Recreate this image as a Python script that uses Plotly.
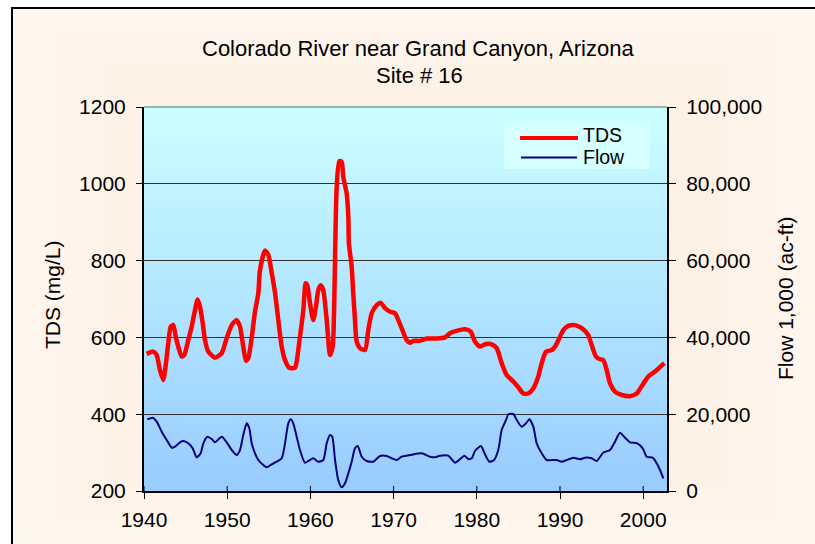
import plotly.graph_objects as go

# ---------------- data ----------------
tds_year = [1940.32, 1941.12, 1941.53, 1941.92, 1942.32, 1942.64, 1942.92, 1943.21, 1943.52, 1943.81,
            1944.12, 1944.53, 1944.84, 1945.32, 1945.73, 1946.13, 1946.45, 1946.73, 1947.06, 1947.33,
            1947.73, 1948.53, 1949.34, 1949.94, 1950.54, 1951.14, 1951.54, 1951.93, 1952.26, 1952.54,
            1952.94, 1953.34, 1953.74, 1953.94, 1954.54, 1954.94, 1955.35, 1955.75, 1956.55, 1956.95,
            1957.46, 1958.15, 1958.35, 1958.75, 1959.15, 1959.43, 1959.63, 1959.95, 1960.35, 1960.67,
            1960.95, 1961.24, 1961.55, 1961.96, 1962.36, 1962.68, 1962.84, 1963.16, 1963.47, 1963.76,
            1963.95, 1964.36, 1964.56, 1964.63, 1964.96, 1965.15, 1965.36, 1965.56, 1965.96, 1966.56,
            1966.96, 1967.37, 1967.97, 1968.45, 1968.97, 1969.57, 1970.17, 1970.57, 1970.97, 1971.57,
            1971.97, 1972.37, 1973.17, 1973.98, 1975.18, 1976.18, 1976.78, 1977.58, 1978.58, 1979.27,
            1979.78, 1980.38, 1980.98, 1981.79, 1982.39, 1982.99, 1983.59, 1984.39, 1984.99, 1985.59,
            1986.19, 1986.79, 1987.39, 1987.80, 1988.32, 1989.00, 1989.40, 1989.92, 1990.40, 1991.00,
            1991.80, 1992.61, 1993.40, 1993.81, 1994.33, 1994.81, 1995.21, 1995.61, 1996.01, 1996.61,
            1997.42, 1998.41, 1999.22, 1999.82, 2000.61, 2001.42, 2002.54]
tds_mgl = [557, 563, 554, 515, 489, 533, 585, 628, 632, 602,
           576, 550, 554, 593, 628, 671, 699, 680, 637, 593,
           563, 547, 559, 598, 632, 645, 628, 576, 539, 546,
           598, 667, 715, 775, 826, 815, 768, 716, 576, 541,
           521, 521, 537, 602, 671, 741, 736, 689, 645, 680,
           723, 736, 723, 645, 554, 576, 663, 992, 1059, 1057,
           1018, 975, 914, 845, 784, 715, 645, 589, 572, 567,
           619, 663, 684, 690, 676, 667, 663, 645, 624, 593,
           586, 591, 591, 597, 597, 600, 611, 617, 621, 615,
           589, 576, 582, 582, 572, 533, 502, 485, 470, 454,
           454, 467, 498, 533, 563, 567, 576, 598, 619, 630,
           632, 624, 606, 580, 550, 543, 541, 515, 480, 459,
           450, 447, 454, 473, 498, 511, 533]

flow_year = [1940.40, 1941.05, 1941.53, 1942.13, 1942.73, 1943.33, 1943.73, 1944.33, 1944.72, 1945.32,
             1945.85, 1946.33, 1946.81, 1947.13, 1947.61, 1948.14, 1948.53, 1949.34, 1949.94, 1950.54,
             1951.14, 1951.54, 1951.93, 1952.34, 1952.66, 1952.94, 1953.34, 1953.74, 1954.34, 1954.75,
             1955.35, 1955.95, 1956.55, 1956.95, 1957.34, 1957.63, 1957.94, 1958.35, 1958.75, 1959.35,
             1959.95, 1960.35, 1960.95, 1961.55, 1961.96, 1962.36, 1962.63, 1962.96, 1963.35, 1963.76,
             1964.16, 1964.56, 1964.96, 1965.36, 1965.69, 1966.17, 1966.77, 1967.56, 1968.37, 1969.17,
             1969.77, 1970.37, 1970.97, 1971.97, 1973.38, 1974.38, 1974.98, 1975.58, 1976.57, 1977.38,
             1977.98, 1978.50, 1978.98, 1979.39, 1979.78, 1980.50, 1980.98, 1981.50, 1982.07, 1982.58,
             1982.99, 1983.51, 1983.79, 1984.39, 1984.80, 1985.40, 1985.91, 1986.31, 1986.79, 1987.20,
             1987.80, 1988.40, 1989.60, 1990.20, 1990.81, 1991.60, 1992.40, 1993.00, 1993.81, 1994.41,
             1995.20, 1996.01, 1996.61, 1997.21, 1997.81, 1998.41, 1999.29, 1999.94, 2000.42, 2001.14,
             2001.62, 2002.02, 2002.42]
flow_kaf = [18671, 19087, 18046, 15442, 13280, 11275, 11536, 12681, 13020, 12421,
            11119, 8775, 9817, 12421, 14140, 13541, 12681, 14140, 12681, 10676,
            9374, 10676, 14582, 17629, 16327, 12421, 9817, 8072, 6770, 6171,
            6953, 7630, 8515, 12421, 17629, 18671, 17629, 14140, 10676, 7369,
            8072, 8515, 7630, 8072, 12421, 14582, 14140, 8072, 2864, 963,
            2005, 4609, 7630, 11119, 11718, 8932, 7812, 7630, 9114, 9114,
            8515, 8072, 8932, 9374, 9817, 8932, 8775, 9192, 9192, 7369,
            8255, 9192, 8333, 8515, 10416, 11718, 9557, 7630, 8072, 10676,
            15884, 18488, 19973, 20051, 18488, 16744, 17629, 18671, 16744, 12421,
            9817, 8072, 8072, 7630, 8072, 8671, 8255, 8671, 8515, 7812,
            9973, 10676, 12838, 15181, 13879, 12681, 12421, 11119, 8932, 8671,
            7213, 5468, 3307]

x_ticks = [1940, 1950, 1960, 1970, 1980, 1990, 2000]
series_names = ["TDS", "Flow"]
title_lines = ["Colorado River near Grand Canyon, Arizona", "Site # 16"]

# ---------------- layout geometry (window pixels) ----------------
W, H = 815, 544
PL, PR, PT, PB = 144, 667, 107, 491          # plot area in window pixels
PW, PH = PR - PL, PB - PT
L, T, R, B = PL, PT, W - PR, H - PB
FONT = "Liberation Sans, Arial, sans-serif"
FS = 21


def px(x):
    return (x - PL) / PW


def py(y):
    return (PB - y) / PH


def mix(c1, c2, t):
    return "rgb(%d,%d,%d)" % tuple(round(a + (b - a) * t) for a, b in zip(c1, c2))


shapes = []
# chart-area background: rectangular gradient, lighter at the edges
outer, inner = (255, 246, 238), (252, 232, 214)
cx, cy, hw, hh = 416, 278, 404, 270
N = 30
for i in range(N):
    t = i / (N - 1)
    s = 1 - 0.85 * t
    shapes.append(dict(type="rect", xref="paper", yref="paper", layer="below",
                       x0=px(cx - hw * s), x1=px(cx + hw * s),
                       y0=py(cy + hh * s), y1=py(cy - hh * s),
                       fillcolor=mix(outer, inner, t), line=dict(width=0)))
# chart border
shapes.append(dict(type="rect", xref="paper", yref="paper", layer="below",
                   x0=px(12), x1=px(840), y0=py(570), y1=py(8),
                   line=dict(color="black", width=2), fillcolor="rgba(0,0,0,0)"))
# plot-area vertical gradient
top_c, bot_c = (204, 255, 255), (153, 204, 255)
NB = 64
for i in range(NB):
    shapes.append(dict(type="rect", xref="paper", yref="paper", layer="below",
                       x0=0, x1=1, y0=1 - (i + 1) / NB, y1=1 - i / NB + 0.002,
                       fillcolor=mix(top_c, bot_c, i / (NB - 1)), line=dict(width=0)))
# plot-area top border
shapes.append(dict(type="line", xref="paper", yref="paper", x0=0, x1=1, y0=1, y1=1,
                   line=dict(color="#7f9a9a", width=1.5)))
# x-axis ticks cross the axis line: inner half
for xv in x_ticks:
    shapes.append(dict(type="line", xref="x", yref="paper", x0=xv, x1=xv, y0=0, y1=5 / PH,
                       line=dict(color="black", width=1)))
# legend box and samples
shapes.append(dict(type="rect", xref="paper", yref="paper",
                   x0=px(504), x1=px(650), y0=py(169), y1=py(123),
                   fillcolor="#d6ffff", line=dict(width=0), layer="above"))
shapes.append(dict(type="line", xref="paper", yref="paper", x0=px(520), x1=px(578),
                   y0=py(138), y1=py(138), line=dict(color="#ff0000", width=4)))
shapes.append(dict(type="line", xref="paper", yref="paper", x0=px(521), x1=px(577),
                   y0=py(157.5), y1=py(157.5), line=dict(color="#000080", width=2)))


def label(text, x, y, size=FS, angle=0, xanchor="center"):
    return dict(text=text, xref="paper", yref="paper", x=px(x), y=py(y), textangle=angle,
                xanchor=xanchor, yanchor="middle", showarrow=False, borderpad=0,
                font=dict(size=size, color="black", family=FONT))


annotations = [
    label(title_lines[0], 418, 48, size=22),
    label(title_lines[1], 419, 76, size=22),
    label("TDS (mg/L)", 52, 295, angle=-90),
    label("Flow 1,000 (ac-ft)", 785, 299, angle=-90),
    label(series_names[0], 582, 135, size=19.5, xanchor="left"),
    label(series_names[1], 582, 157, size=19.5, xanchor="left"),
]

fig = go.Figure()
fig.add_trace(go.Scatter(x=tds_year, y=tds_mgl, name=series_names[0], mode="lines",
                         line=dict(color="#ff0000", width=4.5, shape="spline", smoothing=0.6),
                         yaxis="y"))
fig.add_trace(go.Scatter(x=flow_year, y=flow_kaf, name=series_names[1], mode="lines",
                         line=dict(color="#000080", width=2, shape="spline", smoothing=0.6),
                         yaxis="y2"))

fig.update_layout(
    width=W, height=H, autosize=False,
    margin=dict(l=L, r=R, t=T, b=B, pad=0, autoexpand=False),
    paper_bgcolor="white", plot_bgcolor="rgba(0,0,0,0)",
    showlegend=False,
    font=dict(family=FONT, size=FS, color="black"),
    xaxis=dict(range=[1940, 2002.86], tickvals=x_ticks, ticks="outside", ticklen=6,
               tickcolor="black", showgrid=False, zeroline=False, showline=True, automargin=False,
               linecolor="black", linewidth=2, tickfont=dict(size=FS), ticklabelstandoff=3),
    yaxis=dict(range=[200, 1200], dtick=200, ticks="outside", ticklen=6, tickcolor="black",
               showgrid=True, gridcolor="#333333", gridwidth=1, zeroline=False, automargin=False,
               showline=True, linecolor="black", linewidth=2, tickfont=dict(size=FS),
               ticklabelstandoff=6),
    yaxis2=dict(range=[0, 100000], dtick=20000, tickformat=",", overlaying="y", side="right",
                ticks="outside", ticklen=7, tickcolor="black", showgrid=False, zeroline=False,
                automargin=False, showline=True, linecolor="black", linewidth=2,
                tickfont=dict(size=FS), ticklabelstandoff=6),
    shapes=shapes,
    annotations=annotations,
)

fig.write_html("out.html", config={"displayModeBar": False},
               post_script="document.body.style.margin='0px';document.body.style.overflow='hidden';")
